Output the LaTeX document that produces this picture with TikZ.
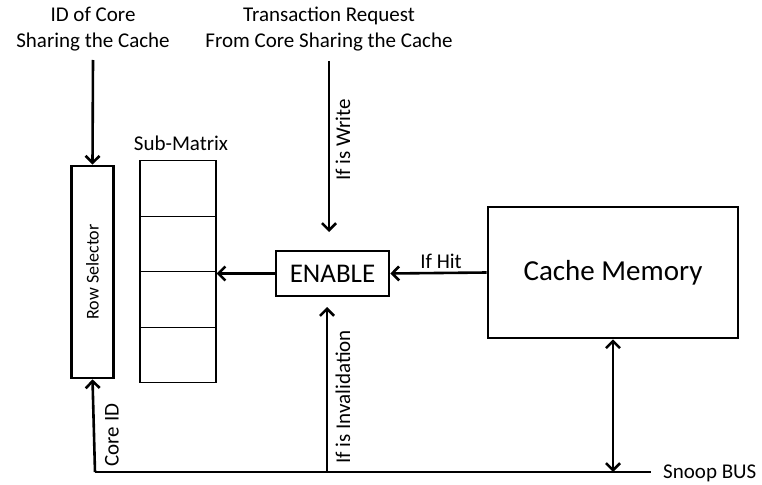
\documentclass[tikz,border=0pt]{standalone}
\usepackage{fontspec}
\setmainfont{Carlito}
\usetikzlibrary{arrows.meta}
\begin{document}
\begin{tikzpicture}[x=1pt,y=-1pt,
  thickbox/.style={draw,line width=2.6pt,inner sep=0pt},
  cellbox/.style={draw,line width=1.1pt,minimum width=76pt,minimum height=55.3pt,inner sep=0pt},
  wire/.style={line width=2.6pt},
  barb/.style={Straight Barb[length=7pt,width=14pt]},
  arr/.style={wire,-{Straight Barb[length=7pt,width=14pt]}},
  biarr/.style={wire,{Straight Barb[length=7pt,width=14pt]}-{Straight Barb[length=7pt,width=14pt]}},
  lbl/.style={font=\fontsize{21}{26}\selectfont,inner sep=0pt,align=center},
]
\useasboundingbox (0,0) rectangle (762,484);

% blocks
\node[thickbox,minimum width=42.5pt,minimum height=212pt] (rowsel) at (92.5,272)
  {\rotatebox{90}{\fontsize{18}{20}\selectfont Row Selector}};
\node[cellbox] (cell1) at (178,188.5) {};
\node[cellbox] (cell2) at (178,244) {};
\node[cellbox] (cell3) at (178,299.5) {};
\node[cellbox] (cell4) at (178,355) {};
\node[thickbox,minimum width=113pt,minimum height=45pt,font=\fontsize{27}{30}\selectfont] (enable) at (332.5,273.5) {ENABLE};
\node[thickbox,minimum width=250pt,minimum height=131pt,font=\fontsize{29}{32}\selectfont] (cache) at (613,272.5) {Cache Memory};

% labels
\node[lbl] (idlbl) at (93,29) {ID of Core\\Sharing the Cache};
\node[lbl] (trlbl) at (329,29) {Transaction Request\\From Core Sharing the Cache};
\node[lbl] (sublbl) at (181,143) {Sub-Matrix};
\node[lbl,rotate=90] (wrlbl) at (343,140) {If is Write};
\node[lbl,rotate=90] (invlbl) at (343,397) {If is Invalidation};
\node[lbl,rotate=90] (corelbl) at (112,435) {Core ID};
\node[lbl] (hitlbl) at (441,261) {If Hit};
\node[lbl,anchor=west] (buslbl) at (663,473) {Snoop BUS};

% connection points
\coordinate (idsrc) at (93,60);
\coordinate (trsrc) at (329,61);
\coordinate (trtip) at (329,232);
\coordinate (invtap) at (327,472);
\coordinate (invtip) at (327,307);
\coordinate (busL) at (95,472);
\coordinate (busR) at (651,472);

% connectors
\draw[wire] (busL) -- (busR);
\draw[arr] (idsrc) -- (rowsel.north);
\draw[arr] (trsrc) -- (trtip);
\draw[arr] (invtap) -- (invtip);
\draw[arr] (busL) -- (rowsel.south);
\draw[arr] (enable.west) -- (enable.west -| cell2.east);
\draw[arr] (cache.west) -- (enable.east);
\draw[biarr] (cache.south) -- (cache.south |- busR);
\end{tikzpicture}
\end{document}
